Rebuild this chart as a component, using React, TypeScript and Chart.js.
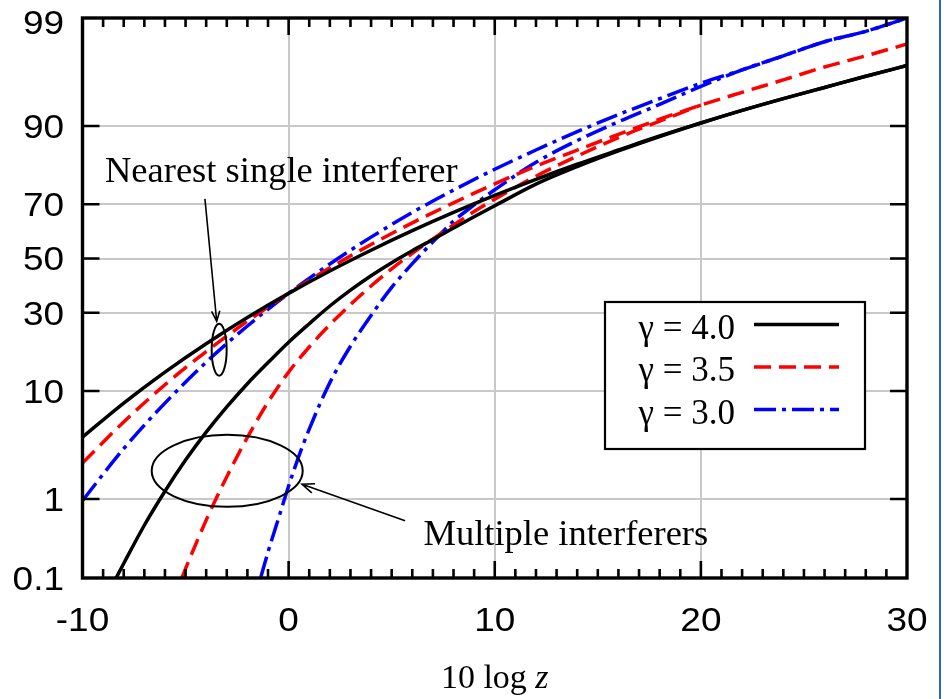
import React, { useEffect, useRef } from "react";
import { Chart, registerables } from "chart.js";

Chart.register(...registerables);

// Axis ticks
const xTickValues = [-10, 0, 10, 20, 30];
const xTickLabels = ["-10", "0", "10", "20", "30"];
const xMinorStep = 1;
const yTickPercents = [0.1, 1, 10, 30, 50, 70, 90, 99];
const yTickLabels = ["0.1", "1", "10", "30", "50", "70", "90", "99"];

const legendLabels = ["γ = 4.0", "γ = 3.5", "γ = 3.0"];

// Nearest single interferer: CDF in percent vs 10 log z (dB)
const xNearest = [-10, -8, -6, -4, -2, 0, 2, 4, 6, 8, 10, 12, 14, 16, 18, 20, 22, 24, 26, 28, 30];
const nearestG40 = [4.2, 8.1, 13.6, 20.5, 28.4, 36.8, 45.2, 53.2, 60.6, 67.2, 72.9, 77.8, 81.9, 85.3, 88.2, 90.5, 92.4, 93.9, 95.1, 96.1, 96.9];
const nearestG35 = [2.4, 5.7, 11.1, 18.4, 27.2, 36.8, 46.4, 55.4, 63.5, 70.5, 76.5, 81.4, 85.3, 88.5, 91.1, 93.1, 94.6, 95.8, 96.8, 97.5, 98.1];
const nearestG30 = [0.96, 3.3, 8.1, 15.8, 25.7, 36.8, 47.9, 58.2, 67.2, 74.6, 80.6, 85.3, 89.0, 91.8, 93.9, 95.5, 96.6, 97.5, 98.2, 98.6, 99.0];

// Multiple interferers: CDF in percent vs 10 log z (dB)
const xMultiG40 = [-8.37, -8, -7, -6, -5, -4, -3, -2, -1, 0, 1, 2, 3, 4, 5, 6, 7, 8, 9, 10, 12, 14, 16, 18, 20, 22, 24, 26, 28, 30];
const multiG40 = [0.1, 0.159, 0.494, 1.22, 2.56, 4.65, 7.56, 11.3, 15.7, 20.9, 26.4, 32.3, 38.0, 43.4, 48.4, 53.0, 57.3, 61.6, 65.7, 69.5, 76.4, 81.3, 85.1, 88.1, 90.5, 92.4, 93.9, 95.1, 96.1, 96.9];

const xMultiG35 = [-5.18, -5, -4, -3, -2, -1, 0, 1, 2, 3, 4, 5, 6, 7, 8, 9, 10, 12, 14, 16, 18, 20];
const multiG35 = [0.1, 0.135, 0.57, 1.74, 4.18, 8.23, 13.6, 19.6, 26.1, 32.8, 39.5, 46.0, 52.0, 57.5, 62.7, 67.5, 71.7, 78.7, 83.9, 87.9, 90.8, 93.1];

const xMultiG30 = [-1.36, -1, -0.5, 0, 0.5, 1, 2, 3, 4, 5, 6, 7, 8, 9, 10, 12, 14, 16, 18, 20, 22, 24, 26, 28, 30];
const multiG30 = [0.1, 0.226, 0.587, 1.39, 2.81, 4.95, 11.5, 19.8, 29.1, 39.0, 48.0, 56.4, 64.1, 69.8, 74.7, 82.4, 87.3, 90.7, 93.2, 95.2, 96.6, 97.5, 98.2, 98.6, 99.0];

// Annotation anchors in data space (dB, percent)
const nearestNote = { text: "Nearest single interferer", x: -8.91, p: 76.9 };
const nearestArrow = { from: [-4.06, 71.8], to: [-3.49, 27.2] };
const nearestRing = { x: -3.37, p: 18.9, rx: 7.5, ry: 26 };
const multiNote = { text: "Multiple interferers", x: 6.54, p: 0.28 };
const multiArrow = { from: [5.65, 0.56], to: [0.65, 1.45] };
const multiRing = { x: -2.98, p: 2.0, rx: 75.5, ry: 36 };

// Inverse of the standard normal CDF (normal-probability axis)
function probit(p: number): number {
  const a = [-3.969683028665376e1, 2.209460984245205e2, -2.759285104469687e2, 1.38357751867269e2, -3.066479806614716e1, 2.506628277459239];
  const b = [-5.447609879822406e1, 1.615858368580409e2, -1.556989798598866e2, 6.680131188771972e1, -1.328068155288572e1];
  const c = [-7.784894002430293e-3, -3.223964580411365e-1, -2.400758277161838, -2.549732539343734, 4.374664141464968, 2.938163982698783];
  const d = [7.784695709041462e-3, 3.224671290700398e-1, 2.445134137142996, 3.754408661907416];
  const plow = 0.02425;
  if (p < plow) {
    const q = Math.sqrt(-2 * Math.log(p));
    return (((((c[0] * q + c[1]) * q + c[2]) * q + c[3]) * q + c[4]) * q + c[5]) / ((((d[0] * q + d[1]) * q + d[2]) * q + d[3]) * q + 1);
  }
  if (p <= 1 - plow) {
    const q = p - 0.5;
    const r = q * q;
    return ((((((a[0] * r + a[1]) * r + a[2]) * r + a[3]) * r + a[4]) * r + a[5]) * q) / (((((b[0] * r + b[1]) * r + b[2]) * r + b[3]) * r + b[4]) * r + 1);
  }
  const q = Math.sqrt(-2 * Math.log(1 - p));
  return -(((((c[0] * q + c[1]) * q + c[2]) * q + c[3]) * q + c[4]) * q + c[5]) / ((((d[0] * q + d[1]) * q + d[2]) * q + d[3]) * q + 1);
}

const toPoints = (xs: number[], ps: number[]) => xs.map((x, i) => ({ x, y: probit(ps[i] / 100) }));

const BLACK = "#000000";
const RED = "#ff0000";
const BLUE = "#0000ff";
const SOLID: number[] = [];
const DASH = [17, 8];
const DASH_DOT = [22, 6, 4, 6];

const SERIF = '"Liberation Serif", "Times New Roman", serif';
const SANS = '"Liberation Sans", Arial, sans-serif';
const TICK_FONT_SIZE = 33;
const TICK_STRETCH = 1.12;

function arrow(ctx: CanvasRenderingContext2D, x1: number, y1: number, x2: number, y2: number, head: number) {
  const ang = Math.atan2(y2 - y1, x2 - x1);
  const spread = 0.38;
  ctx.beginPath();
  ctx.moveTo(x1, y1);
  ctx.lineTo(x2, y2);
  ctx.moveTo(x2 - head * Math.cos(ang - spread), y2 - head * Math.sin(ang - spread));
  ctx.lineTo(x2, y2);
  ctx.lineTo(x2 - head * Math.cos(ang + spread), y2 - head * Math.sin(ang + spread));
  ctx.stroke();
}

function stretchedText(ctx: CanvasRenderingContext2D, text: string, x: number, y: number, align: CanvasTextAlign) {
  ctx.save();
  ctx.translate(x, y);
  ctx.scale(TICK_STRETCH, 1);
  ctx.textAlign = align;
  ctx.textBaseline = "alphabetic";
  ctx.fillText(text, 0, 0);
  ctx.restore();
}

const decorPlugin = {
  id: "decor",
  afterDatasetsDraw(chart: any) {
    const { ctx, chartArea: a, scales } = chart;
    const xs = scales.x;
    const ys = scales.y;
    const px = (v: number) => xs.getPixelForValue(v);
    const py = (p: number) => ys.getPixelForValue(probit(p / 100));
    ctx.save();
    ctx.setLineDash([]);
    ctx.strokeStyle = BLACK;
    ctx.fillStyle = BLACK;
    ctx.lineCap = "butt";

    // rings around the curve groups
    ctx.lineWidth = 2;
    for (const r of [nearestRing, multiRing]) {
      ctx.beginPath();
      ctx.ellipse(px(r.x), py(r.p), r.rx, r.ry, 0, 0, Math.PI * 2);
      ctx.stroke();
    }
    // arrows
    ctx.lineWidth = 1.6;
    arrow(ctx, px(nearestArrow.from[0]), py(nearestArrow.from[1]), px(nearestArrow.to[0]), py(nearestArrow.to[1]), 11);
    arrow(ctx, px(multiArrow.from[0]), py(multiArrow.from[1]), px(multiArrow.to[0]), py(multiArrow.to[1]), 13);
    // notes
    ctx.font = `36.5px ${SERIF}`;
    ctx.textAlign = "left";
    ctx.textBaseline = "alphabetic";
    ctx.fillText(nearestNote.text, px(nearestNote.x), py(nearestNote.p));
    ctx.fillText(multiNote.text, px(multiNote.x), py(multiNote.p));

    // legend box
    const box = { left: 605, top: 302, right: 865, bottom: 449 };
    ctx.fillStyle = "#ffffff";
    ctx.fillRect(box.left, box.top, box.right - box.left, box.bottom - box.top);
    ctx.lineWidth = 2.2;
    ctx.strokeRect(box.left, box.top, box.right - box.left, box.bottom - box.top);
    const entries = chart.data.datasets.filter((ds: any) => ds.label);
    entries.forEach((ds: any, i: number) => {
      const base = 338.5 + i * 42.5;
      ctx.fillStyle = BLACK;
      ctx.font = `35px ${SERIF}`;
      ctx.textAlign = "right";
      ctx.fillText(ds.label, 735, base);
      ctx.strokeStyle = ds.borderColor;
      ctx.lineWidth = ds.borderWidth;
      ctx.setLineDash(ds.borderDash);
      ctx.beginPath();
      ctx.moveTo(754, base - 14);
      ctx.lineTo(839, base - 14);
      ctx.stroke();
      ctx.setLineDash([]);
    });

    // plot frame and inward ticks
    ctx.strokeStyle = BLACK;
    ctx.lineWidth = 3.4;
    ctx.strokeRect(a.left, a.top, a.right - a.left, a.bottom - a.top);
    ctx.lineWidth = 2.6;
    ctx.beginPath();
    const xmin = xTickValues[0];
    const xmax = xTickValues[xTickValues.length - 1];
    for (let v = xmin + xMinorStep; v < xmax; v += xMinorStep) {
      const major = xTickValues.includes(v);
      const len = major ? 17 : 9;
      const x = px(v);
      ctx.moveTo(x, a.bottom);
      ctx.lineTo(x, a.bottom - len);
      ctx.moveTo(x, a.top);
      ctx.lineTo(x, a.top + len);
    }
    yTickPercents.slice(1, -1).forEach((p) => {
      const y = py(p);
      ctx.moveTo(a.left, y);
      ctx.lineTo(a.left + 17, y);
      ctx.moveTo(a.right, y);
      ctx.lineTo(a.right - 17, y);
    });
    ctx.stroke();

    // tick labels
    ctx.fillStyle = BLACK;
    ctx.font = `${TICK_FONT_SIZE}px ${SANS}`;
    const half = TICK_FONT_SIZE * 0.358;
    xTickValues.forEach((v, i) => {
      stretchedText(ctx, xTickLabels[i], px(v), a.bottom + 53, "center");
    });
    yTickPercents.forEach((p, i) => {
      const y = Math.max(py(p), a.top + 4);
      stretchedText(ctx, yTickLabels[i], a.left - 18.5, y + half, "right");
    });

    // x-axis title: 10 log z
    const cx = (a.left + a.right) / 2;
    const baseY = a.bottom + 110;
    ctx.textAlign = "left";
    ctx.font = `34px ${SERIF}`;
    const t1 = "10 log ";
    const w1 = ctx.measureText(t1).width;
    ctx.font = `italic 34px ${SERIF}`;
    const w2 = ctx.measureText("z").width;
    const sx = cx - (w1 + w2) / 2;
    ctx.font = `34px ${SERIF}`;
    ctx.fillText(t1, sx, baseY);
    ctx.font = `italic 34px ${SERIF}`;
    ctx.fillText("z", sx + w1, baseY);
    ctx.restore();
  },
};

function series(label: string, xs: number[], ps: number[], color: string, dash: number[], width: number) {
  return {
    label,
    data: toPoints(xs, ps),
    borderColor: color,
    borderWidth: width,
    borderDash: dash,
    pointRadius: 0,
    fill: false,
    cubicInterpolationMode: "monotone" as const,
  };
}

const zeroPadding = (s: any) => {
  s.paddingLeft = 0;
  s.paddingRight = 0;
  s.paddingTop = 0;
  s.paddingBottom = 0;
};

export default function App() {
  const canvasRef = useRef<HTMLCanvasElement | null>(null);

  useEffect(() => {
    const canvas = canvasRef.current;
    if (!canvas) return;
    const chart = new Chart(canvas, {
      type: "line",
      data: {
        datasets: [
          series(legendLabels[0], xNearest, nearestG40, BLACK, SOLID, 3.5),
          series("", xMultiG40, multiG40, BLACK, SOLID, 3.5),
          series(legendLabels[1], xNearest, nearestG35, RED, DASH, 3.5),
          series("", xMultiG35, multiG35, RED, DASH, 3.5),
          series(legendLabels[2], xNearest, nearestG30, BLUE, DASH_DOT, 3.5),
          series("", xMultiG30, multiG30, BLUE, DASH_DOT, 3.5),
        ],
      },
      options: {
        responsive: false,
        animation: false,
        events: [],
        layout: { padding: { left: 0, right: 37, top: 18, bottom: 0 } },
        plugins: { legend: { display: false }, tooltip: { enabled: false }, title: { display: false } },
        scales: {
          x: {
            type: "linear",
            min: xTickValues[0],
            max: xTickValues[xTickValues.length - 1],
            afterBuildTicks: (s: any) => {
              s.ticks = xTickValues.map((v) => ({ value: v }));
            },
            afterFit: (s: any) => {
              s.height = 121;
              zeroPadding(s);
            },
            ticks: { display: false, autoSkip: false },
            grid: { color: "#c8c8c8", lineWidth: 2, drawTicks: false },
            border: { display: false },
          },
          y: {
            type: "linear",
            min: probit(yTickPercents[0] / 100),
            max: probit(yTickPercents[yTickPercents.length - 1] / 100),
            afterBuildTicks: (s: any) => {
              s.ticks = yTickPercents.map((p) => ({ value: probit(p / 100) }));
            },
            afterFit: (s: any) => {
              s.width = 82.5;
              zeroPadding(s);
            },
            ticks: { display: false, autoSkip: false },
            grid: { color: "#c8c8c8", lineWidth: 2, drawTicks: false },
            border: { display: false },
          },
        },
      },
      plugins: [decorPlugin],
    });
    return () => chart.destroy();
  }, []);

  return (
    <div style={{ position: "fixed", left: 0, top: 0, width: 944, height: 699, background: "#ffffff" }}>
      <canvas ref={canvasRef} width={944} height={699} style={{ display: "block" }} />
      <div style={{ position: "absolute", left: 939, top: 0, width: 2, height: 699, background: "#2f5fd6" }} />
    </div>
  );
}
